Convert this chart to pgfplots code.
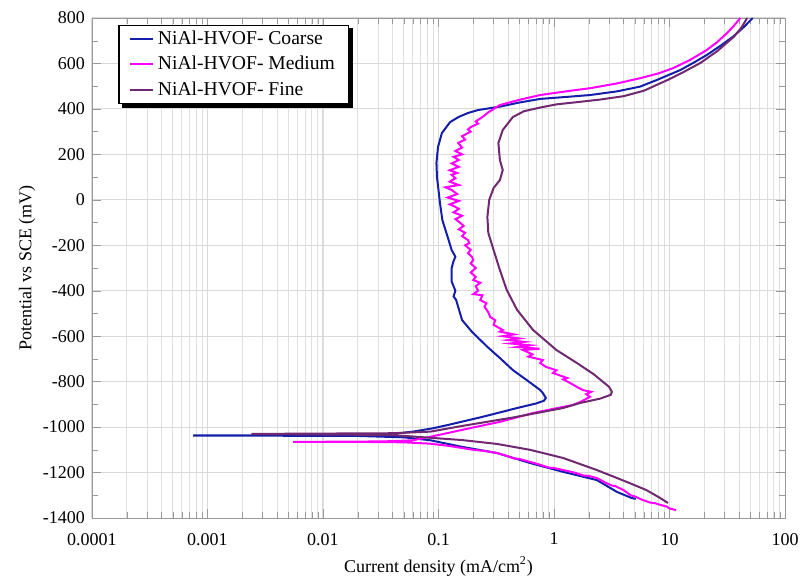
\documentclass[border=0pt]{standalone}
\usepackage{pgfplots}
\pgfplotsset{compat=1.18}
\usepackage{fontspec}
\setmainfont{Liberation Serif}
\definecolor{coarse}{RGB}{20,30,170}
\definecolor{medium}{RGB}{255,0,255}
\definecolor{fine}{RGB}{112,40,112}

\begin{document}
\begin{tikzpicture}
\begin{axis}[
    xmode=log,
    width=346.5pt, height=250pt,
    scale only axis,
    xmin=0.0001, xmax=100,
    ymin=-1400, ymax=800,
    xtick={0.0001,0.001,0.01,0.1,1,10,100},
    xticklabels={0.0001,0.001,0.01,0.1,1,10,100},
    ytick={-1400,-1200,...,800},
    minor y tick num=1,
    xmajorgrids, xminorgrids, ymajorgrids,
    major grid style={gray!30, line width=0.5pt},
    minor grid style={gray!25, line width=0.4pt},
    axis line style={gray!80},
    tick style={gray!80},
    /pgf/number format/assume math mode=true,
    /pgf/number format/1000 sep={},
    ticklabel style={font=\fontsize{9}{10}\selectfont},
    xticklabel style={yshift=-4pt},
    xlabel={Current density (mA/cm\textsuperscript{2})},
    ylabel={Potential vs SCE (mV)},
    label style={font=\fontsize{9}{10}\selectfont},
    xlabel style={yshift=1pt},
    ylabel style={yshift=-3pt},
    legend cell align=left,
    legend style={at={(0.038,0.986)}, anchor=north west, name=L,
        font=\fontsize{9.8}{11}\selectfont, draw=black, line width=0.6pt,
        fill=white, inner xsep=5pt, inner ysep=0.5pt,
        row sep=0.5pt},
    legend image code/.code={\draw[#1, line width=1pt] (0pt,0pt) -- (11.5pt,0pt);},
]
% Coarse
\addplot[color=coarse, line width=1pt] coordinates {
(5.1,-1316)(4.7,-1312)(3.5,-1285)(2.35,-1233)(1.2,-1197)(0.62,-1158)(0.32,-1114)(0.16,-1087)
(0.085,-1058)(0.05,-1045)(0.02,-1039)(0.00075,-1037)(0.02,-1035)(0.04,-1030)(0.06,-1020)
(0.09,-1005)(0.12,-991)(0.24,-955)(0.48,-916)(0.7,-896)(0.82,-884)(0.85,-872)(0.8,-850)(0.76,-837)
(0.58,-793)(0.44,-749)(0.34,-696)(0.265,-647)(0.195,-581)(0.16,-529)(0.148,-471)(0.142,-440)
(0.135,-425)(0.14,-400)(0.13,-360)(0.13,-300)(0.135,-270)(0.14,-250)(0.13,-221)(0.12,-163)
(0.108,-89)(0.103,-14)(0.1,43)(0.097,100)(0.096,162)(0.099,232)(0.107,294)(0.126,342)
(0.15,365)(0.18,382)(0.22,395)(0.34,410)(0.5,428)(0.76,444)(1.3,453)(2.05,461)(3.5,477)
(5.56,498)(8,530)(12.4,571)(16,602)(21,637)(28,680)(35.5,718)(44,760)(52.5,800)
};
% Medium
\addplot[color=medium, line width=1pt] coordinates {
(11.4,-1365)(10,-1358)(9.5,-1350)(8.3,-1342)(7.5,-1335)(6.8,-1332)(5.8,-1320)(5,-1305)(4.6,-1300)
(4.0,-1277)(3.4,-1260)(3.2,-1258)(2.8,-1245)(2.35,-1224)(2.0,-1215)(1.8,-1213)(1.5,-1200)
(1.2,-1189)(1.0,-1180)(0.9,-1178)(0.75,-1165)(0.62,-1153)(0.5,-1140)(0.45,-1138)(0.38,-1125)
(0.32,-1114)(0.25,-1105)(0.2,-1100)(0.16,-1092)(0.12,-1082)(0.085,-1073)(0.05,-1067)(0.02,-1065)
(0.0055,-1065)(0.02,-1064)(0.04,-1062)(0.06,-1058)(0.1,-1035)(0.19,-1004)(0.34,-977)(0.66,-938)
(1.1,-915)(1.45,-903)(1.7,-889)(2.05,-867)(1.9,-855)(2.1,-845)(1.78,-837)(1.6,-825)(1.38,-806)
(1.2,-790)(1.3,-784)(0.98,-762)(1.05,-750)(0.85,-735)(0.76,-718)(0.8,-705)(0.6,-690)(0.65,-680)
(0.54,-661)(0.75,-655)(0.48,-648)(0.62,-640)(0.42,-632)(0.55,-625)(0.4,-617)(0.5,-610)(0.36,-600)
(0.45,-592)(0.34,-580)(0.36,-573)(0.3,-550)(0.31,-530)(0.28,-515)(0.27,-495)(0.25,-470)(0.26,-455)
(0.23,-441)(0.24,-420)(0.2,-415)(0.22,-400)(0.21,-380)(0.23,-365)(0.2,-353)(0.21,-339)(0.19,-320)
(0.21,-300)(0.19,-280)(0.2,-265)(0.195,-251)(0.18,-235)(0.19,-220)(0.17,-200)(0.185,-190)
(0.18,-177)(0.16,-160)(0.17,-145)(0.15,-130)(0.165,-115)(0.155,-102)(0.14,-85)(0.16,-70)
(0.135,-55)(0.15,-40)(0.14,-31)(0.125,-20)(0.15,-5)(0.12,10)(0.145,25)(0.13,43)(0.115,55)
(0.15,65)(0.125,80)(0.14,95)(0.13,110)(0.145,118)(0.125,130)(0.15,145)(0.13,160)(0.15,175)
(0.135,189)(0.16,200)(0.14,215)(0.16,230)(0.148,250)(0.17,265)(0.16,280)(0.19,300)(0.18,310)
(0.19,320)(0.22,335)(0.21,345)(0.24,364)(0.27,385)(0.34,417)(0.5,440)(0.76,461)(1.3,478)
(2.05,491)(3.5,512)(5.56,535)(8,556)(10.7,579)(15,615)(21,659)(26,695)(31.5,734)(36,765)(41,800)
};
% Fine
\addplot[color=fine, line width=1pt] coordinates {
(9.7,-1334)(8.3,-1312)(6.3,-1277)(4.5,-1246)(2.35,-1189)(1.2,-1136)(0.62,-1100)(0.32,-1074)
(0.16,-1057)(0.085,-1047)(0.04,-1035)(0.0024,-1030)(0.04,-1027)(0.085,-1020)(0.16,-995)
(0.44,-958)(1.2,-916)(1.68,-894)(2.5,-875)(3.1,-858)(3.17,-845)(3.0,-823)(2.2,-767)(1.58,-718)
(1.05,-661)(0.66,-573)(0.48,-485)(0.39,-397)(0.34,-309)(0.3,-221)(0.27,-146)(0.265,-75)
(0.275,0)(0.3,52)(0.34,87)(0.36,131)(0.34,175)(0.33,250)(0.36,307)(0.44,364)(0.55,390)
(0.76,406)(1.05,420)(1.6,430)(2.5,441)(4,456)(6,480)(9.6,527)(13,560)(18.5,602)(26,655)
(36,717)(42,758)(47,800)
};
\legend{NiAl-HVOF- Coarse, NiAl-HVOF- Medium, NiAl-HVOF- Fine}
\end{axis}
% drop shadow of the legend box
\fill[black] ([xshift=1.6pt,yshift=-1.9pt]L.south west) rectangle ([xshift=1.9pt,yshift=0pt]L.south east);
\fill[black] ([xshift=0pt,yshift=-1.9pt]L.south east) rectangle ([xshift=1.9pt,yshift=-1.6pt]L.north east);
\pgfresetboundingbox
\path[use as bounding box] (-46pt,-29.5pt) rectangle (354.5pt,259pt);
\end{tikzpicture}
\end{document}
